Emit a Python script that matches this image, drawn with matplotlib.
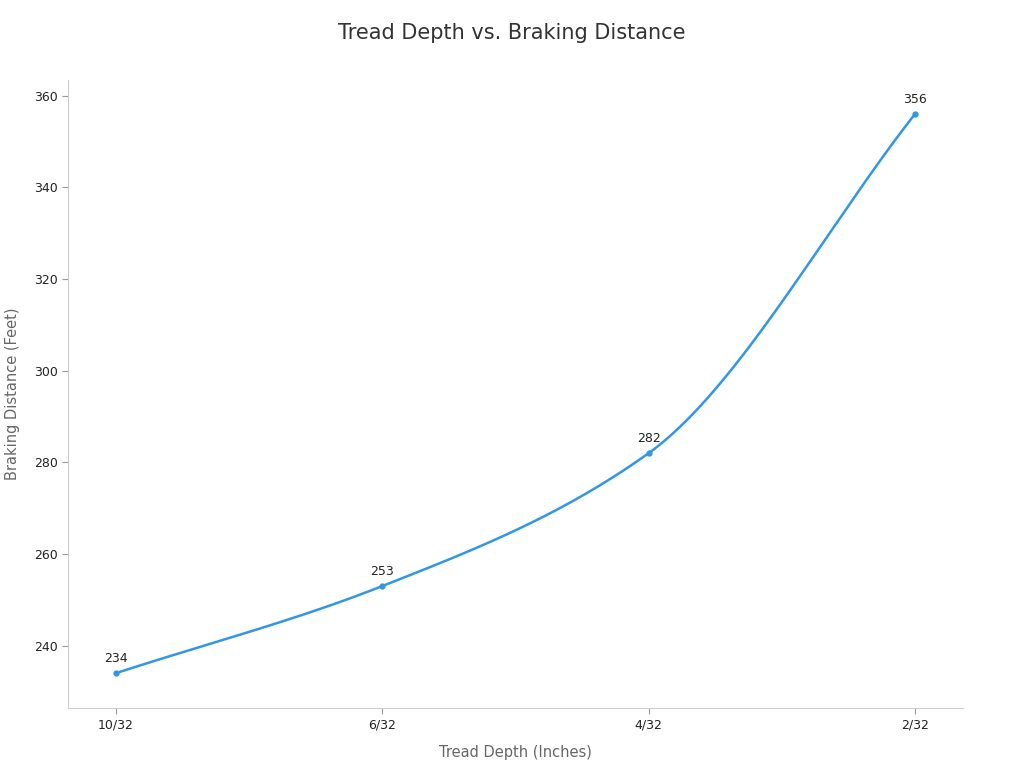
import numpy as np
import matplotlib
matplotlib.use("Agg")
import matplotlib.pyplot as plt

categories = ["10/32", "6/32", "4/32", "2/32"]
distance = [234, 253, 282, 356]

def smooth(xs, ys, n=60):
    xs = np.asarray(xs, float); ys = np.asarray(ys, float)
    h = np.diff(xs); d = np.diff(ys) / h
    m = np.zeros_like(ys)
    m[0], m[-1] = d[0], d[-1]
    for i in range(1, len(ys) - 1):
        m[i] = 0 if d[i-1] * d[i] <= 0 else 2 / (1 / d[i-1] + 1 / d[i])
    X, Y = [], []
    for i in range(len(h)):
        t = np.linspace(0, 1, n)
        h00 = 2*t**3 - 3*t**2 + 1; h10 = t**3 - 2*t**2 + t
        h01 = -2*t**3 + 3*t**2; h11 = t**3 - t**2
        X.append(xs[i] + t*h[i])
        Y.append(h00*ys[i] + h10*h[i]*m[i] + h01*ys[i+1] + h11*h[i]*m[i+1])
    return np.concatenate(X), np.concatenate(Y)

fig = plt.figure(figsize=(10.24, 7.68), dpi=100)
ax = fig.add_axes([68/1024, 60/768, 895/1024, 628/768])
x = np.arange(len(categories))
sx, sy = smooth(x, distance)
color = "#3296e6"
ax.plot(sx, sy, color=color, lw=1.8)
ax.plot(x, distance, "o", color=color, ms=3.5)
for xi, v in zip(x, distance):
    ax.annotate(str(v), (xi, v), xytext=(0, 6), textcoords="offset points",
                ha="center", va="bottom", fontsize=9, color="#222222")
ax.set_xlim(-0.18, 3.18)
ax.set_ylim(226.4, 363.4)
ax.set_xticks(x, categories)
ax.set_yticks(range(240, 361, 20))
for s in ["top", "right"]:
    ax.spines[s].set_visible(False)
for s in ["left", "bottom"]:
    ax.spines[s].set_color("#cccccc")
ax.tick_params(colors="#222222", labelsize=9, length=4)
ax.tick_params(axis="both", color="#999999")
ax.set_xlabel("Tread Depth (Inches)", fontsize=10.5, color="#666666", labelpad=10)
ax.set_ylabel("Braking Distance (Feet)", fontsize=10.5, color="#666666", labelpad=10)
fig.text(0.5, 1 - 33/768, "Tread Depth vs. Braking Distance", ha="center", va="center",
         fontsize=15, color="#333333")
fig.savefig("out.png", dpi=100)
